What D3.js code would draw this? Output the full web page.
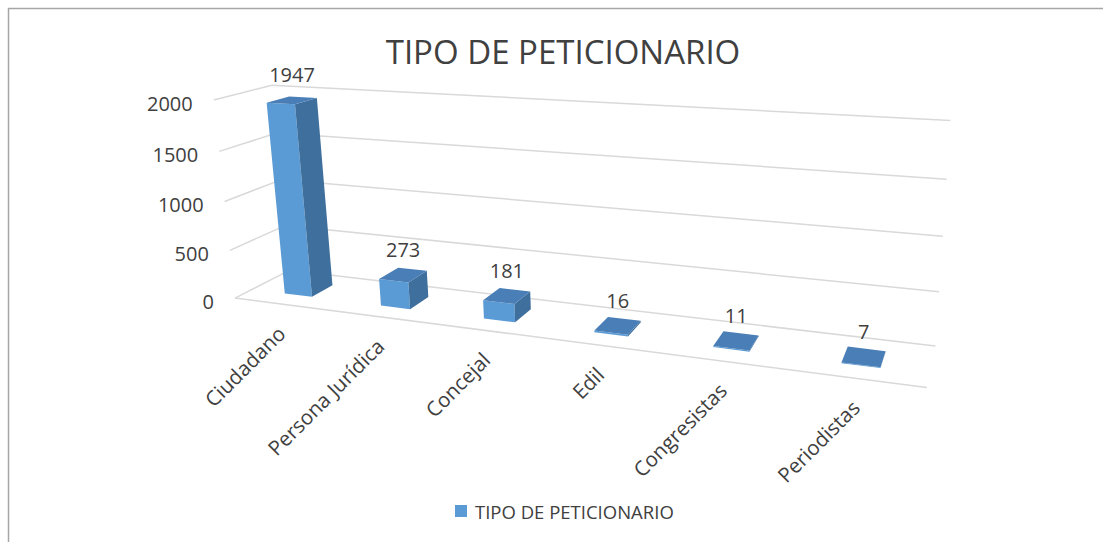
<!DOCTYPE html>
<html>
<head>
<meta charset="utf-8">
<script src="https://cdnjs.cloudflare.com/ajax/libs/d3/7.8.5/d3.min.js"></script>
<style>
  html, body { margin: 0; padding: 0; background: #fff; }
  svg { display: block; font-family: "Open Sans", "Noto Sans", sans-serif; }
</style>
</head>
<body>
<div id="chart"></div>
<script>
// ---------- data ----------
var categories = ["Ciudadano", "Persona Jurídica", "Concejal", "Edil", "Congresistas", "Periodistas"];
var values = [1947, 273, 181, 16, 11, 7];
var yTicks = [0, 500, 1000, 1500, 2000];
var chartTitle = "TIPO DE PETICIONARIO";
var seriesName = "TIPO DE PETICIONARIO";

var width = 1103, height = 542;
var textColor = "#404040";

var svg = d3.select("#chart").append("svg")
    .attr("width", width)
    .attr("height", height);

// ---------- 3D box + camera (rotation X 15deg, Y 20deg, perspective) ----------
var boxW = 603, boxH = 180.6, boxD = 80.8;
var cam = {f: 1110, cx: 615, cy: 195, rotY: 20, rotX: 15, roll: 0.75, t: [-343.5, -88.4, 1000]};

var x_scale = d3.scaleBand().domain(categories).range([0, boxW])
    .paddingInner(0.71).paddingOuter(0.355);
var y_scale = d3.scaleLinear().domain([0, 2000]).range([0, boxH]);
var z_scale = d3.scaleLinear().domain([0, 1]).range([0, boxD]);

var ry = cam.rotY * Math.PI / 180, rx = cam.rotX * Math.PI / 180, rr = cam.roll * Math.PI / 180;

function project(X, Y, Z) {
  var x1 = X * Math.cos(ry) + Z * Math.sin(ry);
  var z1 = -X * Math.sin(ry) + Z * Math.cos(ry);
  var y2 = Y * Math.cos(rx) + z1 * Math.sin(rx);
  var z2 = z1 * Math.cos(rx) - Y * Math.sin(rx);
  var xc = x1 + cam.t[0], yc = y2 + cam.t[1], zc = z2 + cam.t[2];
  var du = cam.f * xc / zc, dv = -cam.f * yc / zc;
  return [cam.cx + du * Math.cos(rr) + dv * Math.sin(rr),
          cam.cy - du * Math.sin(rr) + dv * Math.cos(rr)];
}

var line = d3.line();
function poly(pts) { return line(pts.map(function(p) { return project(p[0], p[1], p[2]); })) + "Z"; }

// ---------- border ----------
svg.append("rect")
    .attr("x", 8.5).attr("y", 8.5)
    .attr("width", width + 20).attr("height", height + 20)
    .style("fill", "none")
    .style("stroke", "#a6a6a6")
    .style("stroke-width", 1.5);

// ---------- title ----------
svg.append("text")
    .attr("x", 563).attr("y", 64)
    .attr("text-anchor", "middle")
    .style("font-size", "33px")
    .style("fill", textColor)
    .text(chartTitle);

// ---------- walls gridlines ----------
var grid = svg.append("g").attr("class", "grid")
    .style("fill", "none").style("stroke", "#d9d9d9").style("stroke-width", 1.5);

yTicks.forEach(function(t) {
  var h = y_scale(t);
  // left wall
  grid.append("path").attr("d", line([project(0, h, 0), project(0, h, boxD)]));
  // back wall
  grid.append("path").attr("d", line([project(0, h, boxD), project(boxW, h, boxD)]));
});
// floor front edge (category axis)
grid.append("path").attr("d", line([project(0, 0, 0), project(boxW, 0, 0)]));

// ---------- value axis labels ----------
svg.append("g").selectAll("text")
    .data(yTicks).enter().append("text")
    .attr("x", function(d) { return project(0, y_scale(d), 0)[0] - 21; })
    .attr("y", function(d) { return project(0, y_scale(d), 0)[1] + 3; })
    .attr("text-anchor", "end")
    .attr("dominant-baseline", "central")
    .style("font-size", "20px")
    .style("fill", textColor)
    .text(function(d) { return d; });

// ---------- bars ----------
var bars = categories.map(function(c, i) {
  var x0 = x_scale(c), x1 = x0 + x_scale.bandwidth();
  var z0 = z_scale(0.3), z1 = z_scale(0.7);
  return {cat: c, value: values[i], x0: x0, x1: x1, z0: z0, z1: z1, h: y_scale(values[i])};
});

var barG = svg.append("g").attr("class", "bars");
bars.forEach(function(b) {
  var g = barG.append("g");
  // front
  g.append("path")
      .attr("d", poly([[b.x0, 0, b.z0], [b.x1, 0, b.z0], [b.x1, b.h, b.z0], [b.x0, b.h, b.z0]]))
      .style("fill", "#5b9bd5");
  // right side
  g.append("path")
      .attr("d", poly([[b.x1, 0, b.z0], [b.x1, 0, b.z1], [b.x1, b.h, b.z1], [b.x1, b.h, b.z0]]))
      .style("fill", "#3f6f9c");
  // top
  g.append("path")
      .attr("d", poly([[b.x0, b.h, b.z0], [b.x1, b.h, b.z0], [b.x1, b.h, b.z1], [b.x0, b.h, b.z1]]))
      .style("fill", "#4a7eb6");
});

// ---------- data labels ----------
svg.append("g").selectAll("text")
    .data(bars).enter().append("text")
    .attr("x", function(d) { return project((d.x0 + d.x1) / 2, d.h, (d.z0 + d.z1) / 2)[0]; })
    .attr("y", function(d) { return project((d.x0 + d.x1) / 2, d.h, (d.z0 + d.z1) / 2)[1] - 18; })
    .attr("text-anchor", "middle")
    .style("font-size", "20px")
    .style("fill", textColor)
    .text(function(d) { return d.value; });

// ---------- category labels ----------
svg.append("g").selectAll("text")
    .data(bars).enter().append("text")
    .attr("transform", function(d) {
      var p = project((d.x0 + d.x1) / 2, 0, 0);
      return "translate(" + (p[0] + 5) + "," + (p[1] + 31) + ") rotate(-45)";
    })
    .attr("text-anchor", "end")
    .style("font-size", "20.5px")
    .style("fill", textColor)
    .text(function(d) { return d.cat; });

// ---------- legend ----------
var legend = svg.append("g").attr("transform", "translate(455,505)");
legend.append("rect").attr("width", 12).attr("height", 12).style("fill", "#5b9bd5");
legend.append("text")
    .attr("x", 20).attr("y", 6)
    .attr("dominant-baseline", "central")
    .style("font-size", "18.5px")
    .style("fill", textColor)
    .text(seriesName);
</script>
</body>
</html>
